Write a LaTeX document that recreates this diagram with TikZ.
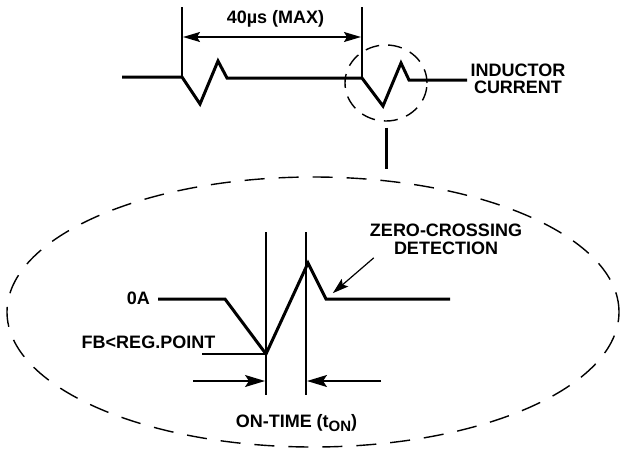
\documentclass[tikz,border=0pt]{standalone}
\usepackage{fontspec}
\setmainfont{Liberation Sans}
\usetikzlibrary{
  positioning,
  arrows.meta,
  shapes.geometric
}

\begin{document}
\begin{tikzpicture}[
  x=1pt, y=-1pt,
  wave/.style={line width=3pt, line join=miter},
  guide/.style={line width=1.2pt},
  pointer/.style={line width=1.7pt, -{Stealth[length=20pt, width=12pt, inset=4pt]}},
  zoomring/.style={draw, ellipse, inner sep=0pt, line width=1.4pt,
                   dash pattern=on 20pt off 14pt},
  lbl/.style={font=\bfseries\fontsize{18}{17.5}\selectfont, align=center, inner sep=0pt},
]
  \useasboundingbox (0,0) rectangle (622,451);

  % inductor current over several cycles
  \coordinate (cycleA) at (182,77);
  \coordinate (cycleB) at (362,78);
  \draw[wave] (122,77) -- (cycleA) -- (200,104) -- (218,61) -- (227,78) -- (cycleB)
              -- (383,106) -- (401,63) -- (409,80) -- (467,80);
  \draw[guide] (182,7) -- (cycleA);
  \draw[guide] (362,7) -- (cycleB);
  \draw[line width=1.5pt, {Stealth[length=17pt, width=10pt, inset=3pt]}-{Stealth[length=17pt, width=10pt, inset=3pt]}]
    (183,37) -- (361,37);
  \node[lbl] (period) at (275.5,19) {40µs (MAX)};
  \node[lbl] (current) at (518,79) {INDUCTOR\\CURRENT};

  \node[zoomring, minimum width=82pt, minimum height=76pt,
        dash pattern=on 14pt off 9pt] (ring) at (386,83) {};
  \node[zoomring, minimum width=612pt, minimum height=270pt] (detail) at (313,312) {};
  \draw[wave] ([yshift=-6pt]ring.south) -- ++(0,41);

  % enlarged view of one cycle
  \coordinate (valley) at (266,354);
  \coordinate (zero) at (326,299);
  \draw[wave] (158,299) -- (225,299) -- (valley) -- (308,263) -- (zero) -- (450,299);
  \draw[guide] (266,232) -- (266,395);
  \draw[guide] (306,232) -- (306,395);
  \draw[guide] (202,354) -- (valley);
  \draw[pointer] (193,381) -- (265,381);
  \draw[pointer] (381,381) -- (307,381);

  \node[lbl, anchor=east] (zeroamp) at (150,298.5) {0A};
  \node[lbl] (regpoint) at (148.5,342) {FB<REG.POINT};
  \node[lbl, anchor=base] (ontime) at (296.5,427)
    {ON-TIME (t\raisebox{-4pt}{\fontsize{15}{15}\selectfont ON})};
  \node[lbl] (detect) at (446,239.5) {ZERO-CROSSING\\DETECTION};
  \draw[line width=1.2pt, -{Stealth[length=16pt, width=10pt, inset=3pt]}, shorten >=9pt]
    ([shift={(4pt,-3pt)}]detect.south west) -- (zero);
\end{tikzpicture}
\end{document}
